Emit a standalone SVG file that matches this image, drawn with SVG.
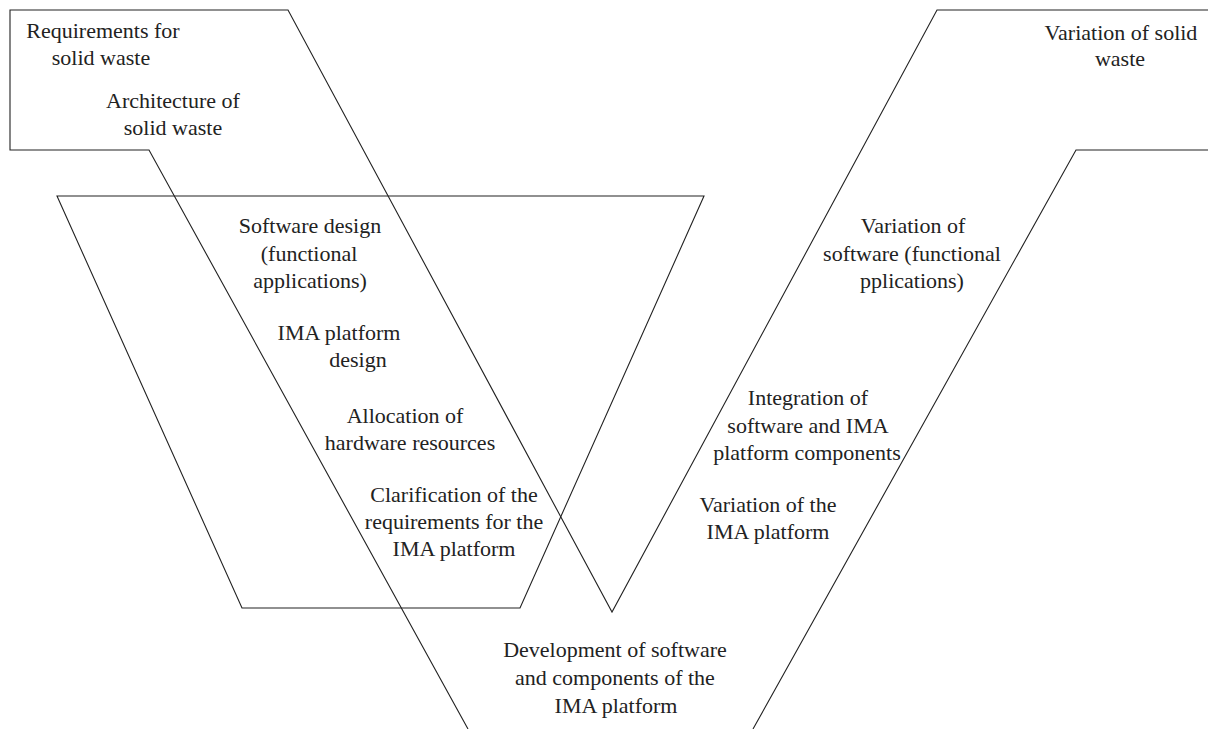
<svg xmlns="http://www.w3.org/2000/svg" width="1208" height="729" viewBox="0 0 1208 729">
<style>
.ln{fill:none;stroke:#222;stroke-width:1.1}
text{font-family:"Liberation Serif","Times New Roman",serif;font-size:22px;fill:#222;text-anchor:middle}
</style>
<rect width="1208" height="729" fill="#fff"/>
<g id="connectors">
<polyline class="ln" points="468,729 149,150 10,150 10,10 288,10 612,612 937,10 1208,10"/>
<polyline class="ln" points="753,729 1076,150 1208,150"/>
<polygon class="ln" points="57,196 704,196 520,608 242,608"/>
</g>
<g id="req-solid-waste"><text x="103" y="38">Requirements for</text><text x="101" y="65">solid waste</text></g>
<g id="arch-solid-waste"><text x="173" y="108">Architecture of</text><text x="173" y="135">solid waste</text></g>
<g id="software-design"><text x="310" y="233">Software design</text><text x="309" y="261">(functional</text><text x="310" y="288">applications)</text></g>
<g id="ima-design"><text x="339" y="340">IMA platform</text><text x="358" y="367">design</text></g>
<g id="allocation"><text x="405" y="423">Allocation of</text><text x="410" y="450">hardware resources</text></g>
<g id="clarification"><text x="454" y="502">Clarification of the</text><text x="454" y="529">requirements for the</text><text x="454" y="556">IMA platform</text></g>
<g id="development"><text x="615" y="657">Development of software</text><text x="615" y="685">and components of the</text><text x="616" y="713">IMA platform</text></g>
<g id="var-solid-waste"><text x="1121" y="40">Variation of solid</text><text x="1120" y="66">waste</text></g>
<g id="var-software"><text x="913" y="233">Variation of</text><text x="912" y="261">software (functional</text><text x="912" y="288">pplications)</text></g>
<g id="integration"><text x="808" y="405">Integration of</text><text x="808" y="433">software and IMA</text><text x="807" y="460">platform components</text></g>
<g id="var-ima"><text x="768" y="512">Variation of the</text><text x="768" y="539">IMA platform</text></g>
</svg>
